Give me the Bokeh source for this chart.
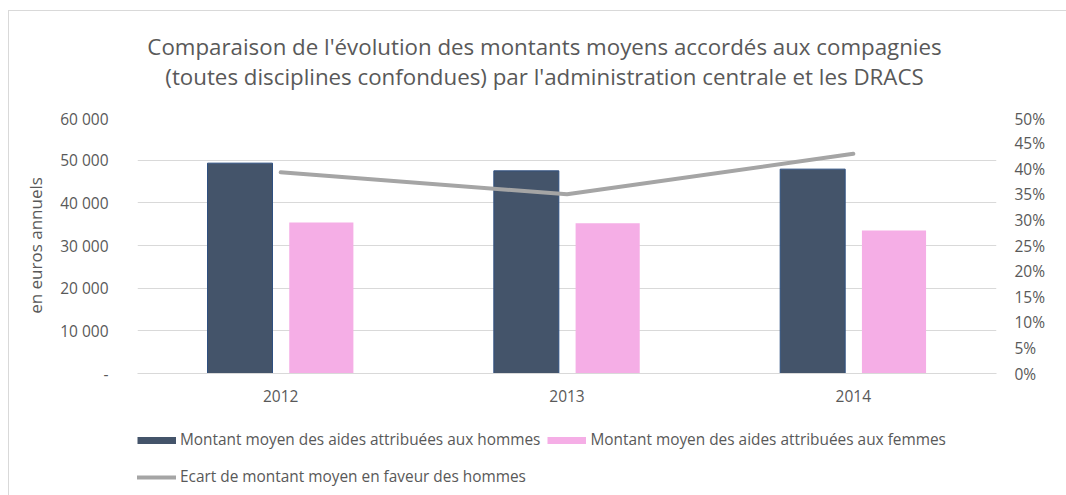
from bokeh.plotting import figure
from bokeh.layouts import column
from bokeh.models import (Range1d, LinearAxis, FixedTicker, Legend, LegendItem,
                          ColumnDataSource, Label)
from bokeh.transform import dodge
from bokeh.embed import file_html
from bokeh.resources import INLINE

# ---- data ----
years = ["2012", "2013", "2014"]
hommes = [49300, 47500, 47900]
femmes = [35400, 35200, 33500]
ecart_pct = [39.3, 35.0, 42.9]

left_ticks = [0, 10000, 20000, 30000, 40000, 50000, 60000]
left_tick_labels = ["-", "10 000", "20 000", "30 000", "40 000", "50 000", "60 000"]
right_ticks = [0, 5, 10, 15, 20, 25, 30, 35, 40, 45, 50]
right_tick_labels = ["0%", "5%", "10%", "15%", "20%", "25%", "30%", "35%", "40%", "45%", "50%"]

title_lines = ["Comparaison de l'évolution des montants moyens accordés aux compagnies",
               "(toutes disciplines confondues) par l'administration centrale et les DRACS"]
y_label = "en euros annuels"
legend_labels = ["Montant moyen des aides attribuées aux hommes",
                 "Montant moyen des aides attribuées aux femmes",
                 "Ecart de montant moyen en faveur des hommes"]

FONT = "Open Sans"
TXT = "#595959"
C_H = "#44546A"
C_F = "#F5AEE6"
C_L = "#A5A5A5"

W = 1057

# ---- title strip ----
tf = figure(width=W, height=96, x_range=Range1d(0, 1), y_range=Range1d(0, 1),
            output_backend="svg", toolbar_location=None, x_axis_type=None, y_axis_type=None,
            min_border=0)
tf.outline_line_color = None
tf.grid.visible = False
for txt, yy in [(title_lines[0], 61), (title_lines[1], 31)]:
    tf.add_layout(Label(x=407, y=yy, x_units="screen", y_units="screen", text=txt,
                        text_align="center", text_baseline="alphabetic", text_font=FONT,
                        text_font_size="22.3px", text_color=TXT))

# ---- main chart ----
src = ColumnDataSource(dict(year=years, h=hommes, f=femmes, e=ecart_pct))

p = figure(x_range=years, y_range=Range1d(0, 60000), width=W, height=313,
           output_backend="svg", toolbar_location=None,
           min_border_left=128, min_border_right=70, min_border_top=10, min_border_bottom=47)
p.outline_line_color = None
p.background_fill_color = "white"
p.border_fill_color = "white"
p.title.visible = False

p.extra_y_ranges = {"pct": Range1d(0, 50)}

p.vbar(x=dodge("year", -0.142, range=p.x_range), top="h", width=0.227, source=src,
       fill_color=C_H, line_color="#2F5080", line_width=1)
p.vbar(x=dodge("year", 0.142, range=p.x_range), top="f", width=0.224, source=src,
       fill_color=C_F, line_color=None)
p.line(x="year", y="e", source=src, y_range_name="pct", line_color=C_L, line_width=4,
       line_cap="round", line_join="round")

p.xgrid.grid_line_color = None
p.ygrid.ticker = FixedTicker(ticks=left_ticks)
p.ygrid.grid_line_color = "#D9D9D9"
p.ygrid.grid_line_width = 1

ya = p.yaxis[0]
ya.ticker = FixedTicker(ticks=left_ticks)
ya.major_label_overrides = {t: l for t, l in zip(left_ticks, left_tick_labels)}
ya.axis_line_color = None
ya.major_tick_line_color = None
ya.minor_tick_line_color = None
ya.major_label_standoff = 23
ya.major_label_text_font = FONT
ya.major_label_text_font_size = "15.5px"
ya.major_label_text_color = TXT
ya.axis_label = y_label
ya.axis_label_text_font = FONT
ya.axis_label_text_font_size = "17px"
ya.axis_label_text_font_style = "normal"
ya.axis_label_text_color = TXT
ya.axis_label_standoff = 10

ra = LinearAxis(y_range_name="pct", ticker=FixedTicker(ticks=right_ticks))
ra.major_label_overrides = {t: l for t, l in zip(right_ticks, right_tick_labels)}
ra.axis_line_color = None
ra.major_tick_line_color = None
ra.minor_tick_line_color = None
ra.major_label_standoff = 12
ra.major_label_text_font = FONT
ra.major_label_text_font_size = "15.5px"
ra.major_label_text_color = TXT
p.add_layout(ra, "right")

xa = p.xaxis[0]
xa.axis_line_color = "#D9D9D9"
xa.major_tick_line_color = None
xa.minor_tick_line_color = None
xa.major_label_standoff = 10
xa.major_label_text_font = FONT
xa.major_label_text_font_size = "15.5px"
xa.major_label_text_color = TXT

# ---- legend strip ----
lg = figure(width=W, height=75, x_range=Range1d(0, 1), y_range=Range1d(0, 1),
            output_backend="svg", toolbar_location=None, x_axis_type=None, y_axis_type=None,
            min_border=0)
lg.outline_line_color = None
lg.grid.visible = False
proxy = ColumnDataSource(dict(x=[float("nan")], y=[float("nan")]))
r1 = lg.line(x="x", y="y", source=proxy, line_color=C_H, line_width=7)
r2 = lg.line(x="x", y="y", source=proxy, line_color=C_F, line_width=7)
r3 = lg.line(x="x", y="y", source=proxy, line_color=C_L, line_width=4, line_cap="round")

def mk_legend(items, loc):
    return Legend(items=items, location=loc, orientation="horizontal",
                  padding=0, margin=0, spacing=7, glyph_width=39, glyph_height=20,
                  label_height=20, label_standoff=4, label_text_font=FONT,
                  label_text_font_size="15.4px", label_text_color=TXT,
                  border_line_color=None, background_fill_alpha=0)

lg.add_layout(mk_legend([LegendItem(label=legend_labels[0], renderers=[r1]),
                         LegendItem(label=legend_labels[1], renderers=[r2])], (0, 45)))
lg.add_layout(mk_legend([LegendItem(label=legend_labels[2], renderers=[r3])], (0, 8)))

layout = column(tf, p, lg, spacing=0)
layout.styles = {"margin-left": "8px", "margin-top": "10px",
                 "border-left": "1px solid #D9D9D9", "border-top": "1px solid #D9D9D9"}

open("out.html", "w").write(file_html(layout, INLINE))
